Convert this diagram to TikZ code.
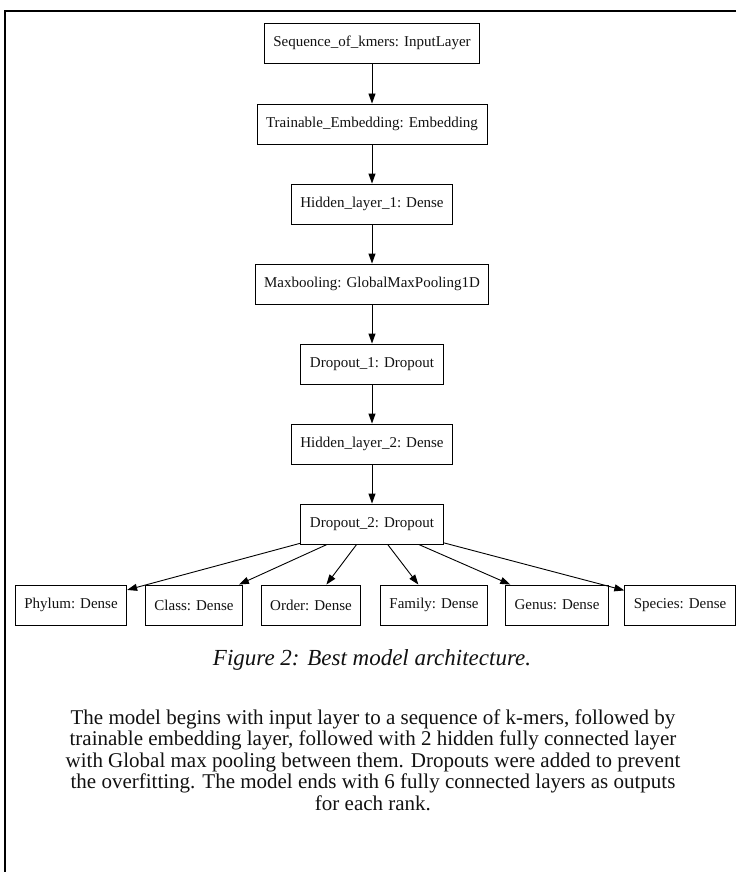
\documentclass[tikz,border=0pt]{standalone}
\usepackage{fontspec}
\setmainfont{Liberation Serif}
\usetikzlibrary{arrows.meta}
\definecolor{color_line}{HTML}{000000}
\definecolor{color_text}{HTML}{111111}
\tikzset{
  frame_line/.style={draw=color_line, line width=2.5pt},
  layer_node/.style={draw=color_line, line width=0.9pt, font=\fontsize{15}{18}\selectfont, text=color_text, minimum height=40pt, inner xsep=9pt},
  layer_arrow/.style={-{Triangle[length=10pt, width=7pt]}, draw=color_line, line width=0.9pt},
  caption_label/.style={font=\fontsize{23}{27}\selectfont\itshape, text=color_text},
  body_label/.style={font=\fontsize{21}{21.5}\selectfont, text=color_text, align=center},
}

\begin{document}
\begin{tikzpicture}[x=1pt, y=-1pt]
    \useasboundingbox (0,0) rectangle (736,872);
    \draw[frame_line] (736, 11) -- (5, 11) -- (5, 872);

    % main chain
    \node[layer_node] (seq)     at (372, 43)  {Sequence\_of\_kmers: InputLayer};
    \node[layer_node] (embed)   at (372, 124) {Trainable\_Embedding: Embedding};
    \node[layer_node] (hidden1) at (372, 204) {Hidden\_layer\_1: Dense};
    \node[layer_node] (maxpool) at (372, 284) {Maxbooling: GlobalMaxPooling1D};
    \node[layer_node] (drop1)   at (372, 364) {Dropout\_1: Dropout};
    \node[layer_node] (hidden2) at (372, 444) {Hidden\_layer\_2: Dense};
    \node[layer_node] (drop2)   at (372, 524) {Dropout\_2: Dropout};

    % outputs
    \node[layer_node] (phylum)  at (71, 605)  {Phylum: Dense};
    \node[layer_node] (class)   at (194, 605) {Class: Dense};
    \node[layer_node] (order)   at (311, 605) {Order: Dense};
    \node[layer_node] (family)  at (434, 605) {Family: Dense};
    \node[layer_node] (genus)   at (557, 605) {Genus: Dense};
    \node[layer_node] (species) at (680, 605) {Species: Dense};

    \draw[layer_arrow] (seq) -- (embed);
    \draw[layer_arrow] (embed) -- (hidden1);
    \draw[layer_arrow] (hidden1) -- (maxpool);
    \draw[layer_arrow] (maxpool) -- (drop1);
    \draw[layer_arrow] (drop1) -- (hidden2);
    \draw[layer_arrow] (hidden2) -- (drop2);
    \foreach \out in {phylum, class, order, family, genus, species}
        \draw[layer_arrow] (drop2) -- (\out);

    \node[caption_label] (caption) at (372, 660) {Figure 2: Best model architecture.};
    \node[body_label] (summary) at (373, 760) {The model begins with input layer to a sequence of k-mers, followed by\\
        trainable embedding layer, followed with 2 hidden fully connected layer\\
        with Global max pooling between them. Dropouts were added to prevent\\
        the overfitting. The model ends with 6 fully connected layers as outputs\\
        for each rank.};
  \end{tikzpicture}
\end{document}
